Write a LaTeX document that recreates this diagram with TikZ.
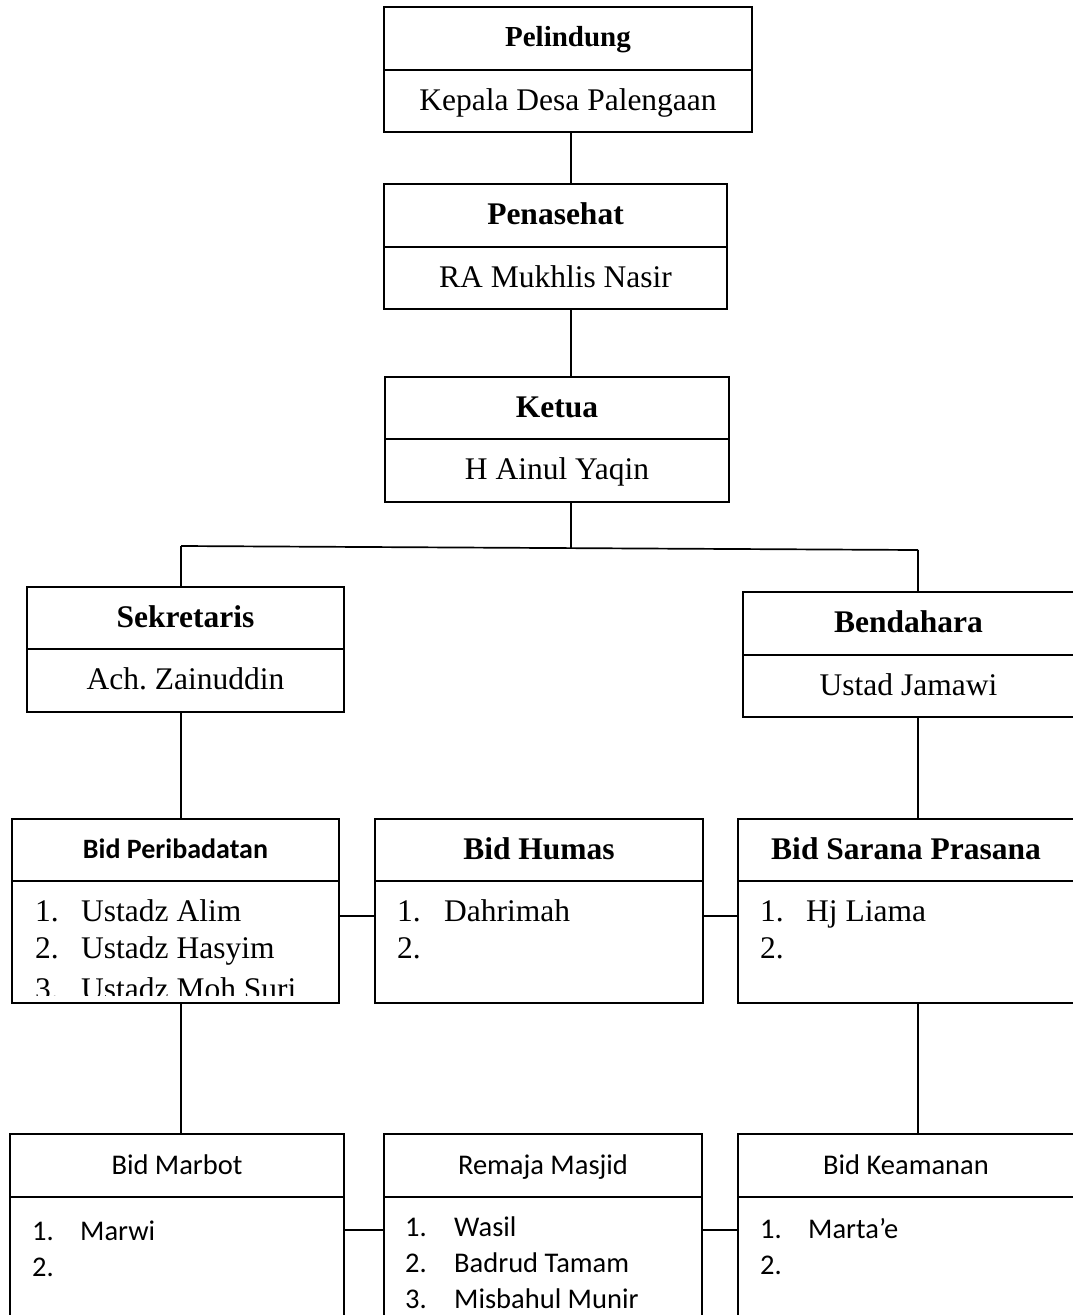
\documentclass[tikz,border=0pt]{standalone}
\usepackage{fontspec}
\setmainfont{Liberation Serif}
\newfontfamily\calib{Carlito}
\begin{document}
\frenchspacing
\begin{tikzpicture}[x=1pt,y=-1pt,
  frame/.style={draw, line width=1.7pt, inner sep=0pt, outer sep=0pt, anchor=north west, align=center},
  conn/.style={line width=1.7pt},
  tnr/.style={font=\fontsize{31.5}{37}\selectfont, text height=24pt, text depth=6pt},
  tnrb/.style={font=\fontsize{31.5}{37}\selectfont\bfseries, text height=24pt, text depth=6pt},
  cal/.style={font=\calib\fontsize{28.5}{34}\selectfont, text height=22pt, text depth=5pt},
  calb/.style={font=\calib\bfseries\fontsize{28}{34}\selectfont, text height=22pt, text depth=5pt},
  itemt/.style={anchor=base west, inner sep=0pt, font=\fontsize{31.5}{37}\selectfont},
  itemc/.style={anchor=base west, inner sep=0pt, font=\calib\fontsize{28.5}{34}\selectfont},
]
\useasboundingbox (0,0) rectangle (1072,1315);

% ---- top chain
\node[frame, minimum width=368pt, minimum height=63pt, font=\fontsize{29}{34}\selectfont\bfseries, text height=22pt, text depth=6pt] (pelT) at (384,7) {Pelindung};
\node[frame, minimum width=368pt, minimum height=62pt, tnr] (pelB) at (384,70) {Kepala Desa Palengaan};
\node[frame, minimum width=343pt, minimum height=63pt, tnrb] (penT) at (384,184) {Penasehat};
\node[frame, minimum width=343pt, minimum height=62pt, tnr] (penB) at (384,247) {RA Mukhlis Nasir};
\node[frame, minimum width=344pt, minimum height=62pt, tnrb] (ketT) at (385,377) {Ketua};
\node[frame, minimum width=344pt, minimum height=63pt, tnr] (ketB) at (385,439) {H Ainul Yaqin};

% ---- second level
\node[frame, minimum width=317pt, minimum height=62pt, tnrb] (sekT) at (27,587) {Sekretaris};
\node[frame, minimum width=317pt, minimum height=63pt, tnr] (sekB) at (27,649) {Ach. Zainuddin};
\node[frame, minimum width=331pt, minimum height=63pt, tnrb] (benT) at (743,592) {Bendahara};
\node[frame, minimum width=331pt, minimum height=62pt, tnr] (benB) at (743,655) {Ustad Jamawi};

% ---- third level
\node[frame, minimum width=327pt, minimum height=62pt, calb] (perT) at (12,819) {Bid Peribadatan};
\node[frame, minimum width=327pt, minimum height=122pt] (perB) at (12,881) {};
\node[frame, minimum width=328pt, minimum height=62pt, tnrb] (humT) at (375,819) {Bid Humas};
\node[frame, minimum width=328pt, minimum height=122pt] (humB) at (375,881) {};
\node[frame, minimum width=336pt, minimum height=62pt, tnrb] (sarT) at (738,819) {Bid Sarana Prasana};
\node[frame, minimum width=336pt, minimum height=122pt] (sarB) at (738,881) {};

% ---- fourth level
\node[frame, minimum width=334pt, minimum height=63pt, cal] (marT) at (10,1134) {Bid Marbot};
\node[frame, minimum width=334pt, minimum height=130pt] (marB) at (10,1197) {};
\node[frame, minimum width=318pt, minimum height=63pt, cal] (remT) at (384,1134) {Remaja Masjid};
\node[frame, minimum width=318pt, minimum height=130pt] (remB) at (384,1197) {};
\node[frame, minimum width=336pt, minimum height=63pt, cal] (keaT) at (738,1134) {Bid Keamanan};
\node[frame, minimum width=336pt, minimum height=130pt] (keaB) at (738,1197) {};

% ---- list texts, third level
\begin{scope}
\clip ([xshift=1pt,yshift=-1pt]perB.north west) rectangle ([xshift=-1pt,yshift=8pt]perB.south east);
\node[itemt] (p1n) at (35,921) {1.};
\node[itemt] (p1t) at (81,921) {Ustadz Alim};
\node[itemt] (p2n) at (35,958) {2.};
\node[itemt] (p2t) at (81,958) {Ustadz Hasyim};
\node[itemt] (p3n) at (35,999) {3.};
\node[itemt] (p3t) at (81,999) {Ustadz Moh Suri};
\end{scope}
\node[itemt] (h1n) at (397,921) {1.};
\node[itemt] (h1t) at (444,921) {Dahrimah};
\node[itemt] (h2n) at (397,958) {2.};
\node[itemt] (s1n) at (760,921) {1.};
\node[itemt] (s1t) at (806,921) {Hj Liama};
\node[itemt] (s2n) at (760,958) {2.};

% ---- list texts, fourth level
\node[itemc] (m1n) at (32,1240) {1.};
\node[itemc] (m1t) at (80,1240) {Marwi};
\node[itemc] (m2n) at (32,1276) {2.};
\node[itemc] (r1n) at (405,1236) {1.};
\node[itemc] (r1t) at (454,1236) {Wasil};
\node[itemc] (r2n) at (405,1272) {2.};
\node[itemc] (r2t) at (454,1272) {Badrud Tamam};
\node[itemc] (r3n) at (405,1308) {3.};
\node[itemc] (r3t) at (454,1308) {Misbahul Munir};
\node[itemc] (k1n) at (760,1238) {1.};
\node[itemc] (k1t) at (808,1238) {Marta’e};
\node[itemc] (k2n) at (760,1274) {2.};

% ---- connectors
\coordinate (ax) at (571,0);
\coordinate (busL) at (181,546);
\coordinate (busM) at (571,548);
\coordinate (busR) at (918,550);
\coordinate (r3) at (0,916);
\coordinate (r4) at (0,1230);

\draw[conn] (ax |- pelB.south) -- (ax |- penT.north);
\draw[conn] (ax |- penB.south) -- (ax |- ketT.north);
\draw[conn] (ax |- ketB.south) -- (busM);
\draw[conn] (busL) -- (busR);
\draw[conn] (busL) -- (busL |- sekT.north);
\draw[conn] (busR) -- (busR |- benT.north);
\draw[conn] (busL |- sekB.south) -- (busL |- perT.north);
\draw[conn] (busR |- benB.south) -- (busR |- sarT.north);
\draw[conn] (perB.east |- r3) -- (humB.west |- r3);
\draw[conn] (humB.east |- r3) -- (sarB.west |- r3);
\draw[conn] (busL |- perB.south) -- (busL |- marT.north);
\draw[conn] (busR |- sarB.south) -- (busR |- keaT.north);
\draw[conn] (marB.east |- r4) -- (remB.west |- r4);
\draw[conn] (remB.east |- r4) -- (keaB.west |- r4);
\end{tikzpicture}
\end{document}
